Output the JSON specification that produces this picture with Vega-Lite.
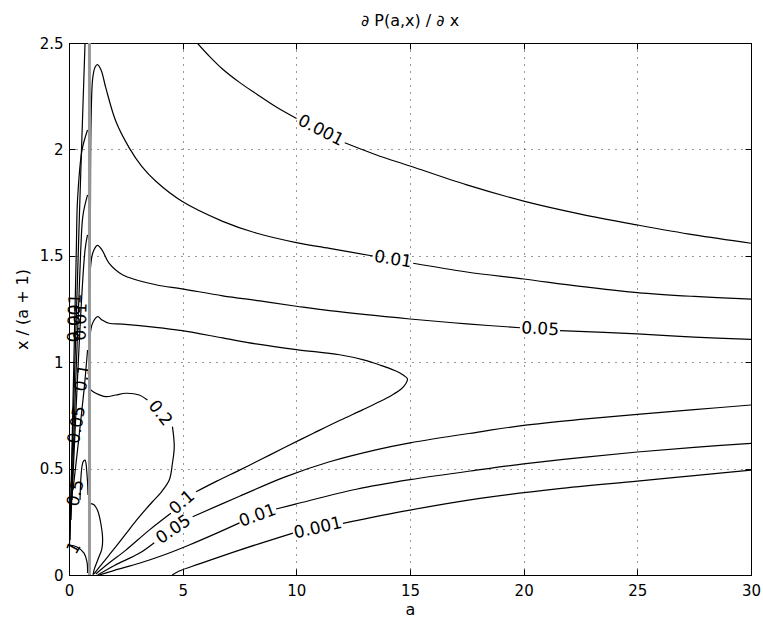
{
  "$schema": "https://vega.github.io/schema/vega-lite/v6.json",
  "width": 682,
  "height": 532,
  "autosize": {"type": "none"},
  "padding": {"left": 69, "top": 43, "right": 12, "bottom": 44},
  "background": "white",
  "config": {"view": {"stroke": "#000", "strokeWidth": 1}, "font": "DejaVu Sans"},
  "title": {"text": "∂ P(a,x) / ∂ x", "font": "DejaVu Sans", "fontSize": 16, "fontWeight": "normal", "color": "#000", "anchor": "middle", "baseline": "alphabetic", "offset": 16, "dy": 22},
  "datasets": {
    "curves": [
      {"c":"u001a","i":0,"a":5.64,"y":2.5},{"c":"u001a","i":1,"a":6.2,"y":2.435},{"c":"u001a","i":2,"a":6.75,"y":2.378},{"c":"u001a","i":3,"a":7.5,"y":2.315},{"c":"u001a","i":4,"a":8.25,"y":2.26},{"c":"u001a","i":5,"a":9.1,"y":2.2},{"c":"u001a","i":6,"a":10.01,"y":2.145},
      {"c":"u001b","i":0,"a":12.13,"y":2.031},{"c":"u001b","i":1,"a":13.5,"y":1.975},{"c":"u001b","i":2,"a":15,"y":1.922},{"c":"u001b","i":3,"a":17.5,"y":1.833},{"c":"u001b","i":4,"a":20,"y":1.757},{"c":"u001b","i":5,"a":22.5,"y":1.696},{"c":"u001b","i":6,"a":25,"y":1.645},{"c":"u001b","i":7,"a":27.5,"y":1.598},{"c":"u001b","i":8,"a":30,"y":1.559},
      {"c":"u01a","i":0,"a":0.9,"y":1.29},{"c":"u01a","i":1,"a":0.94,"y":1.68},{"c":"u01a","i":2,"a":0.97,"y":2.13},{"c":"u01a","i":3,"a":1.045,"y":2.336},{"c":"u01a","i":4,"a":1.15,"y":2.387},{"c":"u01a","i":5,"a":1.25,"y":2.398},{"c":"u01a","i":6,"a":1.41,"y":2.373},{"c":"u01a","i":7,"a":1.62,"y":2.289},{"c":"u01a","i":8,"a":2.06,"y":2.132},{"c":"u01a","i":9,"a":2.65,"y":2.007},{"c":"u01a","i":10,"a":3.2,"y":1.92},{"c":"u01a","i":11,"a":3.82,"y":1.85},{"c":"u01a","i":12,"a":4.97,"y":1.756},{"c":"u01a","i":13,"a":6.76,"y":1.662},{"c":"u01a","i":14,"a":8.23,"y":1.607},{"c":"u01a","i":15,"a":10.0,"y":1.562},{"c":"u01a","i":16,"a":11.46,"y":1.535},{"c":"u01a","i":17,"a":13.37,"y":1.499},
      {"c":"u01b","i":0,"a":15.14,"y":1.465},{"c":"u01b","i":1,"a":17.5,"y":1.424},{"c":"u01b","i":2,"a":20,"y":1.391},{"c":"u01b","i":3,"a":22.5,"y":1.356},{"c":"u01b","i":4,"a":25,"y":1.327},{"c":"u01b","i":5,"a":27.5,"y":1.309},{"c":"u01b","i":6,"a":30,"y":1.296},
      {"c":"u05a","i":0,"a":0.9,"y":1.15},{"c":"u05a","i":1,"a":0.957,"y":1.458},{"c":"u05a","i":2,"a":1.06,"y":1.518},{"c":"u05a","i":3,"a":1.25,"y":1.549},{"c":"u05a","i":4,"a":1.455,"y":1.527},{"c":"u05a","i":5,"a":1.76,"y":1.465},{"c":"u05a","i":6,"a":2.35,"y":1.411},{"c":"u05a","i":7,"a":3.82,"y":1.364},{"c":"u05a","i":8,"a":4.97,"y":1.345},{"c":"u05a","i":9,"a":6.76,"y":1.312},{"c":"u05a","i":10,"a":8.4,"y":1.288},{"c":"u05a","i":11,"a":10.0,"y":1.263},{"c":"u05a","i":12,"a":11.46,"y":1.242},{"c":"u05a","i":13,"a":15,"y":1.203},{"c":"u05a","i":14,"a":17.5,"y":1.18},{"c":"u05a","i":15,"a":19.84,"y":1.162},
      {"c":"u05b","i":0,"a":21.6,"y":1.148},{"c":"u05b","i":1,"a":25,"y":1.133},{"c":"u05b","i":2,"a":27.5,"y":1.118},{"c":"u05b","i":3,"a":30,"y":1.107},
      {"c":"u1a","i":0,"a":0.9,"y":0.87},{"c":"u1a","i":1,"a":0.957,"y":1.151},{"c":"u1a","i":2,"a":1.06,"y":1.189},{"c":"u1a","i":3,"a":1.265,"y":1.214},{"c":"u1a","i":4,"a":1.455,"y":1.198},{"c":"u1a","i":5,"a":1.76,"y":1.183},{"c":"u1a","i":6,"a":2.35,"y":1.179},{"c":"u1a","i":7,"a":3.82,"y":1.164},{"c":"u1a","i":8,"a":4.97,"y":1.148},{"c":"u1a","i":9,"a":6.76,"y":1.114},{"c":"u1a","i":10,"a":8.23,"y":1.086},{"c":"u1a","i":11,"a":10.0,"y":1.059},{"c":"u1a","i":12,"a":11.9,"y":1.035},{"c":"u1a","i":13,"a":13.0,"y":1.01},{"c":"u1a","i":14,"a":13.67,"y":0.987},{"c":"u1a","i":15,"a":14.3,"y":0.962},{"c":"u1a","i":16,"a":14.7,"y":0.94},{"c":"u1a","i":17,"a":14.89,"y":0.922},{"c":"u1a","i":18,"a":14.82,"y":0.9},{"c":"u1a","i":19,"a":14.6,"y":0.873},{"c":"u1a","i":20,"a":14.2,"y":0.845},{"c":"u1a","i":21,"a":13.67,"y":0.815},{"c":"u1a","i":22,"a":12.93,"y":0.777},{"c":"u1a","i":23,"a":11.9,"y":0.726},{"c":"u1a","i":24,"a":10.75,"y":0.666},{"c":"u1a","i":25,"a":9.48,"y":0.599},{"c":"u1a","i":26,"a":8.5,"y":0.546},{"c":"u1a","i":27,"a":7.5,"y":0.493},{"c":"u1a","i":28,"a":6.5,"y":0.441},{"c":"u1a","i":29,"a":5.59,"y":0.391},
      {"c":"u1b","i":0,"a":4.48,"y":0.29},{"c":"u1b","i":1,"a":3.53,"y":0.211},{"c":"u1b","i":2,"a":2.5,"y":0.117},{"c":"u1b","i":3,"a":1.76,"y":0.056},{"c":"u1b","i":4,"a":1.18,"y":0.005},
      {"c":"u2a","i":0,"a":0.9,"y":0.879},{"c":"u2a","i":1,"a":0.97,"y":0.869},{"c":"u2a","i":2,"a":1.18,"y":0.854},{"c":"u2a","i":3,"a":1.62,"y":0.838},{"c":"u2a","i":4,"a":2.06,"y":0.846},{"c":"u2a","i":5,"a":2.5,"y":0.854},{"c":"u2a","i":6,"a":3.09,"y":0.846},{"c":"u2a","i":7,"a":3.45,"y":0.822},
      {"c":"u2b","i":0,"a":4.55,"y":0.697},{"c":"u2b","i":1,"a":4.63,"y":0.603},{"c":"u2b","i":2,"a":4.55,"y":0.525},{"c":"u2b","i":3,"a":4.41,"y":0.446},{"c":"u2b","i":4,"a":4.06,"y":0.39},{"c":"u2b","i":5,"a":3.66,"y":0.343},{"c":"u2b","i":6,"a":3.09,"y":0.273},{"c":"u2b","i":7,"a":2.56,"y":0.202},{"c":"u2b","i":8,"a":2.06,"y":0.133},{"c":"u2b","i":9,"a":1.47,"y":0.055},{"c":"u2b","i":10,"a":1.1,"y":0.005},
      {"c":"u5","i":0,"a":0.9,"y":0.34},{"c":"u5","i":1,"a":0.96,"y":0.336},{"c":"u5","i":2,"a":1.1,"y":0.33},{"c":"u5","i":3,"a":1.25,"y":0.305},{"c":"u5","i":4,"a":1.4,"y":0.242},{"c":"u5","i":5,"a":1.48,"y":0.165},{"c":"u5","i":6,"a":1.44,"y":0.12},{"c":"u5","i":7,"a":1.32,"y":0.086},{"c":"u5","i":8,"a":1.1,"y":0.023},{"c":"u5","i":9,"a":1.06,"y":0.0},
      {"c":"l05a","i":0,"a":1.26,"y":0},{"c":"l05a","i":1,"a":2.0,"y":0.045},{"c":"l05a","i":2,"a":3.09,"y":0.102},{"c":"l05a","i":3,"a":3.75,"y":0.152},
      {"c":"l05b","i":0,"a":5.44,"y":0.274},{"c":"l05b","i":1,"a":7.5,"y":0.37},{"c":"l05b","i":2,"a":9.48,"y":0.46},{"c":"l05b","i":3,"a":11.46,"y":0.532},{"c":"l05b","i":4,"a":13.5,"y":0.588},{"c":"l05b","i":5,"a":15,"y":0.621},{"c":"l05b","i":6,"a":18.08,"y":0.673},{"c":"l05b","i":7,"a":20,"y":0.703},{"c":"l05b","i":8,"a":22.5,"y":0.731},{"c":"l05b","i":9,"a":25,"y":0.755},{"c":"l05b","i":10,"a":27.5,"y":0.777},{"c":"l05b","i":11,"a":30,"y":0.799},
      {"c":"l01a","i":0,"a":1.34,"y":0},{"c":"l01a","i":1,"a":2.0,"y":0.022},{"c":"l01a","i":2,"a":3.09,"y":0.055},{"c":"l01a","i":3,"a":4.2,"y":0.095},{"c":"l01a","i":4,"a":5.29,"y":0.141},{"c":"l01a","i":5,"a":6.4,"y":0.192},{"c":"l01a","i":6,"a":7.5,"y":0.245},
      {"c":"l01b","i":0,"a":9.11,"y":0.31},{"c":"l01b","i":1,"a":10,"y":0.334},{"c":"l01b","i":2,"a":12.64,"y":0.403},{"c":"l01b","i":3,"a":15,"y":0.448},{"c":"l01b","i":4,"a":18.08,"y":0.495},{"c":"l01b","i":5,"a":20,"y":0.522},{"c":"l01b","i":6,"a":22.5,"y":0.552},{"c":"l01b","i":7,"a":25,"y":0.578},{"c":"l01b","i":8,"a":27.5,"y":0.6},{"c":"l01b","i":9,"a":30,"y":0.619},
      {"c":"l001a","i":0,"a":4.54,"y":0},{"c":"l001a","i":1,"a":4.85,"y":0.019},{"c":"l001a","i":2,"a":5.73,"y":0.052},{"c":"l001a","i":3,"a":7.5,"y":0.117},{"c":"l001a","i":4,"a":9.85,"y":0.197},
      {"c":"l001b","i":0,"a":12.05,"y":0.243},{"c":"l001b","i":1,"a":15,"y":0.305},{"c":"l001b","i":2,"a":18.08,"y":0.36},{"c":"l001b","i":3,"a":21.46,"y":0.405},{"c":"l001b","i":4,"a":25,"y":0.441},{"c":"l001b","i":5,"a":27.5,"y":0.467},{"c":"l001b","i":6,"a":30,"y":0.493},
      {"c":"k1","i":0,"a":0,"y":0.141},{"c":"k1","i":1,"a":0.353,"y":0.132},{"c":"k1","i":2,"a":0.661,"y":0.103},{"c":"k1","i":3,"a":0.794,"y":0.061},{"c":"k1","i":4,"a":0.816,"y":0.009},
      {"c":"L1","i":0,"a":0.022,"y":0.141},{"c":"L1","i":1,"a":0.454,"y":1.678},{"c":"L1","i":2,"a":0.705,"y":2.5},
      {"c":"L2","i":0,"a":0.044,"y":0.164},{"c":"L2","i":1,"a":0.322,"y":1.527},{"c":"L2","i":2,"a":0.375,"y":1.762},{"c":"L2","i":3,"a":0.573,"y":1.997},{"c":"L2","i":4,"a":0.816,"y":2.091},
      {"c":"L3","i":0,"a":0.088,"y":0.258},{"c":"L3","i":1,"a":0.516,"y":1.527},{"c":"L3","i":2,"a":0.617,"y":1.692},{"c":"L3","i":3,"a":0.816,"y":1.786},
      {"c":"L4","i":0,"a":0.132,"y":0.352},{"c":"L4","i":1,"a":0.705,"y":1.527},{"c":"L4","i":2,"a":0.816,"y":1.598},
      {"c":"L5","i":0,"a":0.176,"y":0.399},{"c":"L5","i":1,"a":0.661,"y":0.869},{"c":"L5","i":2,"a":0.816,"y":1.057},
      {"c":"S1","i":0,"a":0.485,"y":0.352},{"c":"S1","i":1,"a":0.617,"y":0.531},{"c":"S1","i":2,"a":0.705,"y":0.54},{"c":"S1","i":3,"a":0.794,"y":0.47},{"c":"S1","i":4,"a":0.838,"y":0.376}
    ],
    "labels": [
      {"k":"t1","t":"0.001","a":11.07,"y":2.088},
      {"k":"t2","t":"0.01","a":14.25,"y":1.482},
      {"k":"t3","t":"0.05","a":20.72,"y":1.155},
      {"k":"t4","t":"0.1","a":4.98,"y":0.34},
      {"k":"t5","t":"0.2","a":4.0,"y":0.76},
      {"k":"t6","t":"0.05","a":4.6,"y":0.213},
      {"k":"t7","t":"0.01","a":8.3,"y":0.278},
      {"k":"t8","t":"0.001","a":10.95,"y":0.22},
      {"k":"t9","t":"0.001","a":0.265,"y":1.208},
      {"k":"t9","t":"0.01","a":0.53,"y":1.19},
      {"k":"t11","t":"0.1","a":0.617,"y":0.926},
      {"k":"t11","t":"0.05","a":0.353,"y":0.705},
      {"k":"t13","t":"0.5","a":0.309,"y":0.385},
      {"k":"t14","t":"1","a":0.22,"y":0.127}
    ],
    "bar": [{"a": 0.9, "y": 0, "y2": 2.5}]
  },
  "layer": [
    {
      "layer": [
        {
          "data": {"name": "curves"},
          "mark": {"type": "line", "color": "#000", "strokeWidth": 1.2, "clip": true, "interpolate": "catmull-rom"},
          "encoding": {
            "x": {"field": "a", "type": "quantitative", "scale": {"domain": [0, 30], "nice": false, "zero": false},
              "axis": {"orient": "bottom", "values": [0, 5, 10, 15, 20, 25, 30], "format": "d", "grid": true, "gridDash": [1, 6], "gridColor": "#000", "gridOpacity": 0.8, "tickSize": -6, "tickColor": "#000", "domainColor": "#000", "labelFont": "DejaVu Sans", "labelFontSize": 15, "labelColor": "#000", "labelPadding": 14, "labelFlush": false, "labelOverlap": false, "title": "a", "titleFont": "DejaVu Sans", "titleFontSize": 16, "titleFontWeight": "normal", "titleColor": "#000", "titleX": 341, "titleY": 39, "titleAlign": "center", "titleBaseline": "alphabetic"}},
            "y": {"field": "y", "type": "quantitative", "scale": {"domain": [0, 2.5], "nice": false, "zero": false},
              "axis": {"orient": "left", "values": [0, 0.5, 1, 1.5, 2, 2.5], "format": "~g", "grid": true, "gridDash": [1, 6], "gridColor": "#000", "gridOpacity": 0.8, "tickSize": -6, "tickColor": "#000", "domainColor": "#000", "labelFont": "DejaVu Sans", "labelFontSize": 15, "labelColor": "#000", "labelPadding": 12, "labelFlush": false, "labelOverlap": false, "title": "x / (a + 1)", "titleFont": "DejaVu Sans", "titleFontSize": 16, "titleFontWeight": "normal", "titleColor": "#000", "titleX": -47, "titleY": 266, "titleAngle": -90, "titleAlign": "center", "titleBaseline": "middle"}},
            "detail": {"field": "c"},
            "order": {"field": "i"}
          }
        },
        {"data": {"name": "labels"}, "transform": [{"filter": "datum.k === 't1'"}], "mark": {"type": "text", "angle": 27, "font": "DejaVu Sans", "fontSize": 17, "color": "#000", "align": "center", "baseline": "middle"}, "encoding": {"x": {"field": "a", "type": "quantitative"}, "y": {"field": "y", "type": "quantitative"}, "text": {"field": "t"}}},
        {"data": {"name": "labels"}, "transform": [{"filter": "datum.k === 't2'"}], "mark": {"type": "text", "angle": 9, "font": "DejaVu Sans", "fontSize": 17, "color": "#000", "align": "center", "baseline": "middle"}, "encoding": {"x": {"field": "a", "type": "quantitative"}, "y": {"field": "y", "type": "quantitative"}, "text": {"field": "t"}}},
        {"data": {"name": "labels"}, "transform": [{"filter": "datum.k === 't3'"}], "mark": {"type": "text", "angle": 3, "font": "DejaVu Sans", "fontSize": 17, "color": "#000", "align": "center", "baseline": "middle"}, "encoding": {"x": {"field": "a", "type": "quantitative"}, "y": {"field": "y", "type": "quantitative"}, "text": {"field": "t"}}},
        {"data": {"name": "labels"}, "transform": [{"filter": "datum.k === 't4'"}], "mark": {"type": "text", "angle": -41, "font": "DejaVu Sans", "fontSize": 17, "color": "#000", "align": "center", "baseline": "middle"}, "encoding": {"x": {"field": "a", "type": "quantitative"}, "y": {"field": "y", "type": "quantitative"}, "text": {"field": "t"}}},
        {"data": {"name": "labels"}, "transform": [{"filter": "datum.k === 't5'"}], "mark": {"type": "text", "angle": 52, "font": "DejaVu Sans", "fontSize": 17, "color": "#000", "align": "center", "baseline": "middle"}, "encoding": {"x": {"field": "a", "type": "quantitative"}, "y": {"field": "y", "type": "quantitative"}, "text": {"field": "t"}}},
        {"data": {"name": "labels"}, "transform": [{"filter": "datum.k === 't6'"}], "mark": {"type": "text", "angle": -34, "font": "DejaVu Sans", "fontSize": 17, "color": "#000", "align": "center", "baseline": "middle"}, "encoding": {"x": {"field": "a", "type": "quantitative"}, "y": {"field": "y", "type": "quantitative"}, "text": {"field": "t"}}},
        {"data": {"name": "labels"}, "transform": [{"filter": "datum.k === 't7'"}], "mark": {"type": "text", "angle": -20, "font": "DejaVu Sans", "fontSize": 17, "color": "#000", "align": "center", "baseline": "middle"}, "encoding": {"x": {"field": "a", "type": "quantitative"}, "y": {"field": "y", "type": "quantitative"}, "text": {"field": "t"}}},
        {"data": {"name": "labels"}, "transform": [{"filter": "datum.k === 't8'"}], "mark": {"type": "text", "angle": -13, "font": "DejaVu Sans", "fontSize": 17, "color": "#000", "align": "center", "baseline": "middle"}, "encoding": {"x": {"field": "a", "type": "quantitative"}, "y": {"field": "y", "type": "quantitative"}, "text": {"field": "t"}}},
        {"data": {"name": "labels"}, "transform": [{"filter": "datum.k === 't9'"}], "mark": {"type": "text", "angle": -88, "font": "DejaVu Sans", "fontSize": 17, "color": "#000", "align": "center", "baseline": "middle"}, "encoding": {"x": {"field": "a", "type": "quantitative"}, "y": {"field": "y", "type": "quantitative"}, "text": {"field": "t"}}},
        {"data": {"name": "labels"}, "transform": [{"filter": "datum.k === 't11'"}], "mark": {"type": "text", "angle": -80, "font": "DejaVu Sans", "fontSize": 17, "color": "#000", "align": "center", "baseline": "middle"}, "encoding": {"x": {"field": "a", "type": "quantitative"}, "y": {"field": "y", "type": "quantitative"}, "text": {"field": "t"}}},
        {"data": {"name": "labels"}, "transform": [{"filter": "datum.k === 't13'"}], "mark": {"type": "text", "angle": -78, "font": "DejaVu Sans", "fontSize": 17, "color": "#000", "align": "center", "baseline": "middle"}, "encoding": {"x": {"field": "a", "type": "quantitative"}, "y": {"field": "y", "type": "quantitative"}, "text": {"field": "t"}}},
        {"data": {"name": "labels"}, "transform": [{"filter": "datum.k === 't14'"}], "mark": {"type": "text", "angle": -60, "font": "DejaVu Sans", "fontSize": 17, "color": "#000", "align": "center", "baseline": "middle"}, "encoding": {"x": {"field": "a", "type": "quantitative"}, "y": {"field": "y", "type": "quantitative"}, "text": {"field": "t"}}}
      ]
    },
    {
      "data": {"name": "bar"},
      "mark": {"type": "rule", "color": "#999999", "strokeWidth": 3},
      "encoding": {
        "x": {"field": "a", "type": "quantitative", "axis": {"orient": "top", "values": [0, 5, 10, 15, 20, 25, 30], "labels": false, "grid": false, "tickSize": -6, "tickColor": "#000", "domainColor": "#000", "title": null}},
        "y": {"field": "y", "type": "quantitative", "axis": {"orient": "right", "values": [0, 0.5, 1, 1.5, 2, 2.5], "labels": false, "grid": false, "tickSize": -6, "tickColor": "#000", "domainColor": "#000", "title": null}},
        "y2": {"field": "y2"}
      }
    }
  ],
  "resolve": {"axis": {"x": "independent", "y": "independent"}}
}
